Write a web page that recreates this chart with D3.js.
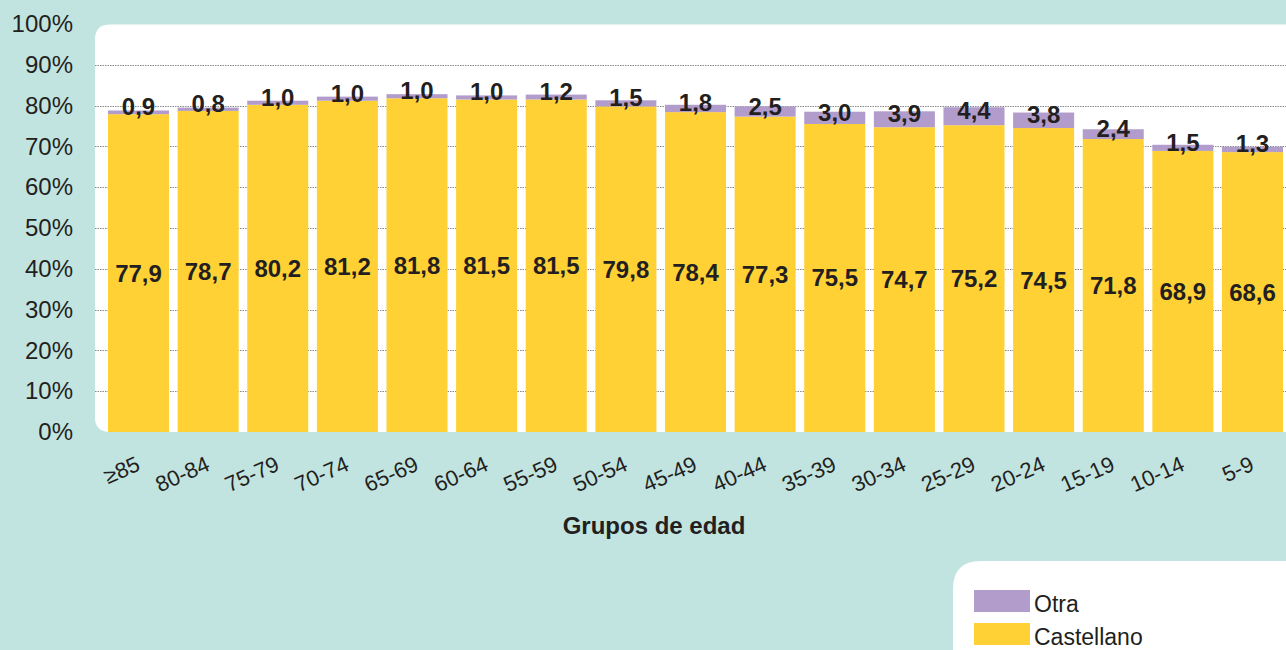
<!DOCTYPE html>
<html lang="es">
<head>
<meta charset="utf-8">
<script src="https://cdn.jsdelivr.net/npm/d3@7"></script>
<style>
  html, body { margin: 0; padding: 0; background: #c2e4e0; }
  svg { display: block; font-family: "Liberation Sans", Arial, sans-serif; }
</style>
</head>
<body>
<svg id="chart" width="1286" height="650"></svg>
<script>
// Grupos de edad y porcentaje de lengua hablada
const groups = ["≥85", "80-84", "75-79", "70-74", "65-69", "60-64", "55-59", "50-54", "45-49", "40-44", "35-39", "30-34", "25-29", "20-24", "15-19", "10-14", "5-9"];
const castellano = [77.9, 78.7, 80.2, 81.2, 81.8, 81.5, 81.5, 79.8, 78.4, 77.3, 75.5, 74.7, 75.2, 74.5, 71.8, 68.9, 68.6];
const otra = [0.9, 0.8, 1.0, 1.0, 1.0, 1.0, 1.2, 1.5, 1.8, 2.5, 3.0, 3.9, 4.4, 3.8, 2.4, 1.5, 1.3];
const yTicks = [0, 10, 20, 30, 40, 50, 60, 70, 80, 90, 100];
const legendItems = ["Otra", "Castellano"];

const colors = { Castellano: "#ffd135", Otra: "#b19ccb" };
const ink = "#231f20";

const svg = d3.select("#chart");
const W = 1286, H = 650;

const x = d3.scaleBand().domain(groups).range([103.7, 1287.3]).paddingInner(0.1235).paddingOuter(0.06175);
const y = d3.scaleLinear().domain([0, 100]).range([432, 24]);

// White plot panel with rounded left corners
const px0 = 95, py0 = y(100) + 0.5, py1 = y(0), r = 15;
svg.append("path")
  .attr("d", `M${W},${py0} L${px0 + r},${py0} Q${px0},${py0} ${px0},${py0 + r} L${px0},${py1 - r} Q${px0},${py1} ${px0 + r},${py1} L${W},${py1} Z`)
  .attr("fill", "#fff");

// Dotted gridlines
svg.append("g").selectAll("line")
  .data(yTicks.filter(d => d > 0 && d < 100))
  .join("line")
  .attr("x1", px0).attr("x2", W)
  .attr("y1", d => Math.round(y(d)) + 0.5).attr("y2", d => Math.round(y(d)) + 0.5)
  .attr("stroke", "#8a8a8a").attr("stroke-width", 1).attr("stroke-dasharray", "1.5,1");

// Y axis labels
const yAxis = d3.axisLeft(y).tickValues(yTicks).tickSize(0).tickPadding(0)
  .tickFormat(d => d + "%");
svg.append("g").attr("transform", "translate(73,0)").call(yAxis)
  .call(g => g.select(".domain").remove())
  .selectAll("text")
  .attr("font-size", 24).attr("fill", ink).attr("font-family", "Liberation Sans, Arial, sans-serif");

// Stacked bars
const rows = groups.map((g, i) => ({ g, c: castellano[i], o: otra[i] }));
const bars = svg.append("g");
bars.selectAll("rect.cas").data(rows).join("rect")
  .attr("class", "cas")
  .attr("x", d => x(d.g)).attr("width", x.bandwidth())
  .attr("y", d => y(d.c)).attr("height", d => y(0) - y(d.c))
  .attr("fill", colors.Castellano);
bars.selectAll("rect.otra").data(rows).join("rect")
  .attr("class", "otra")
  .attr("x", d => x(d.g)).attr("width", x.bandwidth())
  .attr("y", d => y(d.c + d.o)).attr("height", d => y(d.c) - y(d.c + d.o))
  .attr("fill", colors.Otra);

const fmt = v => d3.format(".1f")(v).replace(".", ",");

// Value labels
const labels = svg.append("g").attr("font-weight", "bold").attr("font-size", 24)
  .attr("fill", ink).attr("text-anchor", "middle");
labels.selectAll("text.cas").data(rows).join("text")
  .attr("x", d => x(d.g) + x.bandwidth() / 2)
  .attr("y", d => (y(0) + y(d.c)) / 2 + 8.5)
  .text(d => fmt(d.c));
labels.selectAll("text.otra").data(rows).join("text")
  .attr("x", d => x(d.g) + x.bandwidth() / 2)
  .attr("y", d => (y(d.c) + y(d.c + d.o)) / 2 + 3)
  .text(d => fmt(d.o));

// X axis labels, rotated
svg.append("g").selectAll("text").data(groups).join("text")
  .attr("transform", d => `translate(${x(d) + x.bandwidth() / 2 + 3},469.5) rotate(-24)`)
  .attr("text-anchor", "end")
  .attr("font-size", 22).attr("fill", ink)
  .text(d => d);

// Axis title
svg.append("text")
  .attr("x", 654).attr("y", 534)
  .attr("text-anchor", "middle").attr("font-weight", "bold").attr("font-size", 24)
  .attr("fill", ink)
  .text("Grupos de edad");

// Legend box
const lx = 953, ly = 561, lr = 28;
svg.append("path")
  .attr("d", `M${W},${ly} L${lx + lr},${ly} Q${lx},${ly} ${lx},${ly + lr} L${lx},${H} L${W},${H} Z`)
  .attr("fill", "#fff");
const legend = svg.append("g").selectAll("g").data(legendItems).join("g")
  .attr("transform", (d, i) => `translate(974,${590 + i * 33})`);
legend.append("rect").attr("width", 56).attr("height", 22).attr("fill", d => colors[d]);
legend.append("text").attr("x", 60).attr("y", 21.5).attr("font-size", 23).attr("fill", ink).text(d => d);
</script>
</body>
</html>
